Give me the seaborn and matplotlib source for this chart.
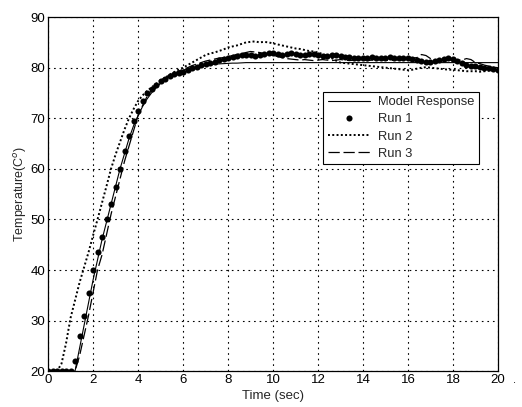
import seaborn as sns
import matplotlib.pyplot as plt
import pandas as pd

OUTPUT_FILE_NAME = "out.png"

# sample grid, 0.2 s spacing from 0 to 20 s
time = [round(0.2 * i, 1) for i in range(101)]

# values, five samples per second + the final one at 20 s
model_response = [
    20, 20, 20, 20, 20,
    20, 20, 24.5, 29, 33.5,
    38, 42, 46, 49.5, 53,
    56.5, 60, 63, 66, 68.5,
    70.5, 72.3, 73.8, 75, 76,
    76.9, 77.6, 78.2, 78.7, 79.1,
    79.5, 79.8, 80.0, 80.2, 80.4,
    80.5, 80.6, 80.7, 80.75, 80.8,
    80.85, 80.9, 80.9, 80.95, 81,
    81, 81, 81, 81, 81,
    81, 81, 81, 81, 81,
    81, 81, 81, 81, 81,
    81, 81, 81, 81, 81,
    81, 81, 81, 81, 81,
    81, 81, 81, 81, 81,
    81, 81, 81, 81, 81,
    81, 81, 81, 81, 81,
    81, 81, 81, 81, 81,
    81, 81, 81, 81, 81,
    81, 81, 81, 81, 81,
    81,
]

run_1 = [
    20, 20, 20, 20, 20,
    20, 22, 27, 31, 35.5,
    40, 43.5, 46.5, 50, 53,
    56.5, 60, 63.5, 66.5, 69.5,
    71.5, 73.5, 75, 75.8, 76.6,
    77.3, 77.8, 78.3, 78.8, 79.0,
    79.2, 79.5, 79.9, 80.2, 80.5,
    80.8, 81.0, 81.2, 81.5, 81.8,
    82.0, 82.1, 82.3, 82.5, 82.6,
    82.5, 82.4, 82.6, 82.8, 83.0,
    82.9, 82.7, 82.6, 82.8, 83.0,
    82.8, 82.6, 82.5, 82.7, 82.8,
    82.6, 82.4, 82.3, 82.5, 82.6,
    82.4, 82.2, 82.1, 82.0, 81.9,
    81.9, 82.0, 82.1, 82.0, 81.9,
    82.0, 82.1, 82.0, 81.9, 82.0,
    82.0, 81.8, 81.5, 81.3, 81.2,
    81.2, 81.4, 81.6, 81.8, 81.9,
    81.7, 81.3, 80.9, 80.6, 80.4,
    80.3, 80.1, 80.0, 79.9, 79.7,
    79.6,
]

run_2 = [
    20, 20, 20, 21.5, 25.5,
    30.5, 34, 37.5, 40.5, 43.5,
    46.8, 50, 53.3, 56.6, 60,
    62.8, 65.3, 67.8, 70, 71.8,
    73.4, 74.5, 75.4, 76.1, 76.8,
    77.5, 78, 78.6, 79.1, 79.6,
    80.0, 80.5, 81.0, 81.5, 82.0,
    82.5, 82.8, 83.0, 83.3, 83.6,
    84.0, 84.2, 84.4, 84.7, 85.0,
    85.1, 85.2, 85.0, 85.1, 85.0,
    84.8, 84.6, 84.4, 84.2, 84.0,
    83.8, 83.7, 83.5, 83.3, 83.2,
    83.0, 82.7, 82.3, 81.9, 81.4,
    81.0, 80.9, 80.8, 80.7, 80.6,
    80.5, 80.4, 80.3, 80.2, 80.1,
    80.0, 79.9, 79.8, 79.7, 79.6,
    79.5, 79.6, 79.8, 80.0, 80.1,
    80.0, 79.9, 79.8, 79.7, 79.6,
    79.6, 79.5, 79.4, 79.3, 79.3,
    79.3, 79.2, 79.3, 79.4, 79.4,
    79.5,
]

run_3 = [
    20, 20, 20, 20, 20,
    20, 20, 23, 27, 31,
    35.5, 40, 43, 47, 51,
    54.5, 58, 61.5, 64.5, 67.5,
    70.5, 72.5, 74.3, 75.5, 76.5,
    77.2, 77.8, 78.4, 78.9, 79.3,
    79.7, 80.0, 80.4, 80.7, 81.0,
    81.3, 81.5, 81.7, 81.9, 82.0,
    82.2, 82.4, 82.6, 82.8, 83.0,
    83.2, 83.1, 83.0, 82.8, 82.6,
    82.5, 82.2, 82.0, 81.8, 81.7,
    81.6, 81.5, 81.6, 81.5, 81.4,
    81.5, 81.6, 81.5, 81.4, 81.5,
    81.6, 81.5, 81.4, 81.5, 81.6,
    81.5, 81.4, 81.5, 81.5, 81.6,
    81.5, 81.4, 81.5, 81.6, 81.7,
    81.8, 81.9, 82.0, 82.6, 82.4,
    81.8, 81.5, 81.4, 81.5, 81.5,
    81.5, 81.5, 81.5, 81.8, 81.6,
    81.0, 80.8, 80.5, 80.3, 80.1,
    80.0,
]

x_ticks = [0, 2, 4, 6, 8, 10, 12, 14, 16, 18, 20]
y_ticks = [20, 30, 40, 50, 60, 70, 80, 90]

### Chart Creation ###
sns.set_theme(style="white")
plt.rcParams["font.family"] = ["Liberation Sans", "DejaVu Sans"]

fig = plt.figure(figsize=(5.22, 4.07), dpi=100)
ax = fig.add_axes([0.092, 0.088, 0.862, 0.870])

sns.lineplot(x=time, y=model_response, ax=ax, color="black", linewidth=0.8, label="Model Response")
sns.lineplot(x=time, y=run_1, ax=ax, color="black", linestyle="", marker="o", markersize=4.4,
             markeredgewidth=0, label="Run 1")
sns.lineplot(x=time, y=run_2, ax=ax, color="black", linewidth=1.4, label="Run 2")
sns.lineplot(x=time, y=run_3, ax=ax, color="black", linewidth=0.9, label="Run 3")

ax.lines[2].set_linestyle((0, (1, 1.2)))
ax.lines[3].set_dashes((9, 3))

ax.set_xlim(0, 20)
ax.set_ylim(20, 90)
ax.set_xticks(x_ticks)
ax.set_yticks(y_ticks)
ax.tick_params(direction="in", length=3, labelsize=9.5, colors="black", pad=2)
ax.grid(True, color="black", linestyle=(0, (1.5, 3.5)), linewidth=0.8)
for spine in ax.spines.values():
    spine.set_color("black")
    spine.set_linewidth(0.9)

ax.set_xlabel("Time (sec)", fontsize=9.5, labelpad=3)
ax.set_ylabel("Temperature(C$^o$)", fontsize=9, labelpad=1)

leg = ax.legend(loc="upper right", bbox_to_anchor=(0.972, 0.808), fontsize=9.3,
                frameon=True, fancybox=False, edgecolor="black", framealpha=1,
                handlelength=3.3, handletextpad=0.6, numpoints=1, borderpad=0.35,
                labelspacing=0.4)
leg.get_frame().set_linewidth(0.8)

fig.text(0.983, 0.058, ".", fontsize=8, color="black")

plt.savefig(OUTPUT_FILE_NAME, dpi=100)
